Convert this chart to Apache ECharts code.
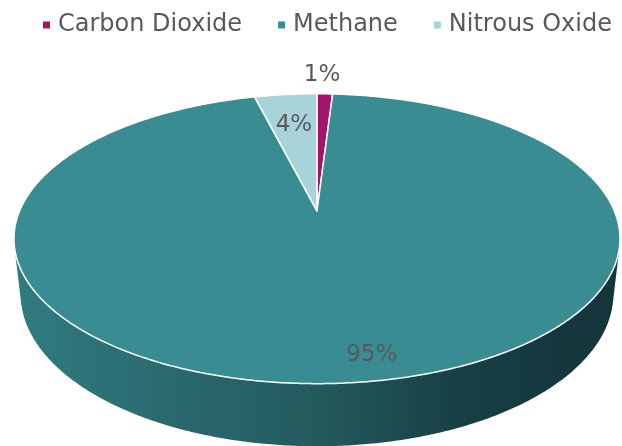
<!DOCTYPE html>
<html>
<head>
<meta charset="utf-8">
<title>Greenhouse gas shares</title>
<script src="https://cdn.jsdelivr.net/npm/echarts@6/dist/echarts.min.js"></script>
<style>
  html, body { margin: 0; padding: 0; background: #ffffff; }
  #chart { width: 622px; height: 446px; }
</style>
</head>
<body>
<div id="chart"></div>
<script>
// Gas shares, in percent
const categories = ['Carbon Dioxide', 'Methane', 'Nitrous Oxide'];
const shares = [1, 95, 4];

const sliceColors = ['#a3146b', '#388c92', '#a9d3da'];
const textColor = '#595959';
const fontFamily = '"DejaVu Sans", sans-serif';

// Perspective view of the disc: x right, y up, z toward the viewer, radius 1
const view = {
  cxFrac: 0.5096, cyFrac: 0.473, focal: 1371, dist: 4.61,
  tilt: 28 * Math.PI / 180, thickness: 0.212
};

// Where each percentage label sits (radius along the mid angle, pixel nudge)
const labelPlacement = [
  { r: 1.2, dx: -4, dy: 0 },
  { r: 0.86, dx: 26, dy: 1 },
  { r: 0.7, dx: 0, dy: 0 }
];

const total = shares.reduce((s, v) => s + v, 0);
const startShare = shares.map((_, i) => shares.slice(0, i).reduce((s, v) => s + v, 0));

function makeProjector(w, h) {
  const s = Math.sin(view.tilt), c = Math.cos(view.tilt);
  const cx = w * view.cxFrac, cy = h * view.cyFrac;
  return function (x, y, z) {
    const Y = y * c - z * s;
    const depth = view.dist - (y * s + z * c);
    return [cx + view.focal * x / depth, cy - view.focal * Y / depth];
  };
}

// angle measured clockwise from the back (12 o'clock) seen from above
function rimPoint(project, a, r, y) {
  return project(r * Math.sin(a), y, -r * Math.cos(a));
}

function arcPoints(project, a0, a1, y) {
  const pts = [];
  const steps = Math.max(2, Math.ceil((a1 - a0) / (0.5 * Math.PI / 180)));
  for (let k = 0; k <= steps; k++) {
    pts.push(rimPoint(project, a0 + (a1 - a0) * k / steps, 1, y));
  }
  return pts;
}

function renderSlice(seriesIndex) {
  return function (params, api) {
    const project = makeProjector(api.getWidth(), api.getHeight());
    const value = api.value(0);
    const a0 = startShare[seriesIndex] / total * 2 * Math.PI;
    const a1 = a0 + value / total * 2 * Math.PI;
    const children = [];

    // side wall: only the part that faces the camera
    const half = Math.acos(1 / (view.dist * Math.cos(view.tilt)));
    const lo = Math.max(a0, Math.PI - half);
    const hi = Math.min(a1, Math.PI + half);
    if (hi > lo) {
      const topEdge = arcPoints(project, lo, hi, 0);
      const bottomEdge = arcPoints(project, lo, hi, -view.thickness).reverse();
      const left = rimPoint(project, Math.PI + half, 1, 0)[0];
      const right = rimPoint(project, Math.PI - half, 1, 0)[0];
      const wallFill = new echarts.graphic.LinearGradient(left, 0, right, 0, [
        { offset: 0, color: '#307c81' },
        { offset: 0.25, color: '#2a6a6f' },
        { offset: 0.5, color: '#235a5e' },
        { offset: 0.75, color: '#173e42' },
        { offset: 1, color: '#13343a' }
      ], true);
      children.push({
        type: 'polygon',
        z2: 1,
        shape: { points: topEdge.concat(bottomEdge) },
        style: { fill: wallFill, stroke: null }
      });
    }

    // top face
    const centre = project(0, 0, 0);
    children.push({
      type: 'polygon',
      z2: 10,
      shape: { points: [centre].concat(arcPoints(project, a0, a1, 0)) },
      style: { fill: sliceColors[seriesIndex], stroke: '#ffffff', lineWidth: 1.5, lineJoin: 'round' }
    });

    // percentage label
    const place = labelPlacement[seriesIndex];
    const mid = (a0 + a1) / 2;
    const p = rimPoint(project, mid, place.r, 0);
    children.push({
      type: 'text',
      z2: 20,
      style: {
        text: Math.round(value / total * 100) + '%',
        x: p[0] + place.dx,
        y: p[1] + place.dy,
        fill: textColor,
        fontSize: 23,
        fontFamily: fontFamily,
        align: 'center',
        verticalAlign: 'middle'
      }
    });

    return { type: 'group', children: children };
  };
}

const chart = echarts.init(document.getElementById('chart'), null, { renderer: 'canvas' });

chart.setOption({
  animation: false,
  backgroundColor: '#ffffff',
  legend: {
    top: 8,
    left: 38,
    icon: 'rect',
    itemWidth: 7,
    itemHeight: 7,
    itemGap: 36,
    data: categories,
    textStyle: { fontSize: 24, color: textColor, fontFamily: fontFamily, padding: [0, 0, 0, 3] }
  },
  series: categories.map((name, i) => ({
    type: 'custom',
    name: name,
    coordinateSystem: 'none',
    itemStyle: { color: sliceColors[i] },
    data: [shares[i]],
    renderItem: renderSlice(i)
  }))
});
</script>
</body>
</html>
